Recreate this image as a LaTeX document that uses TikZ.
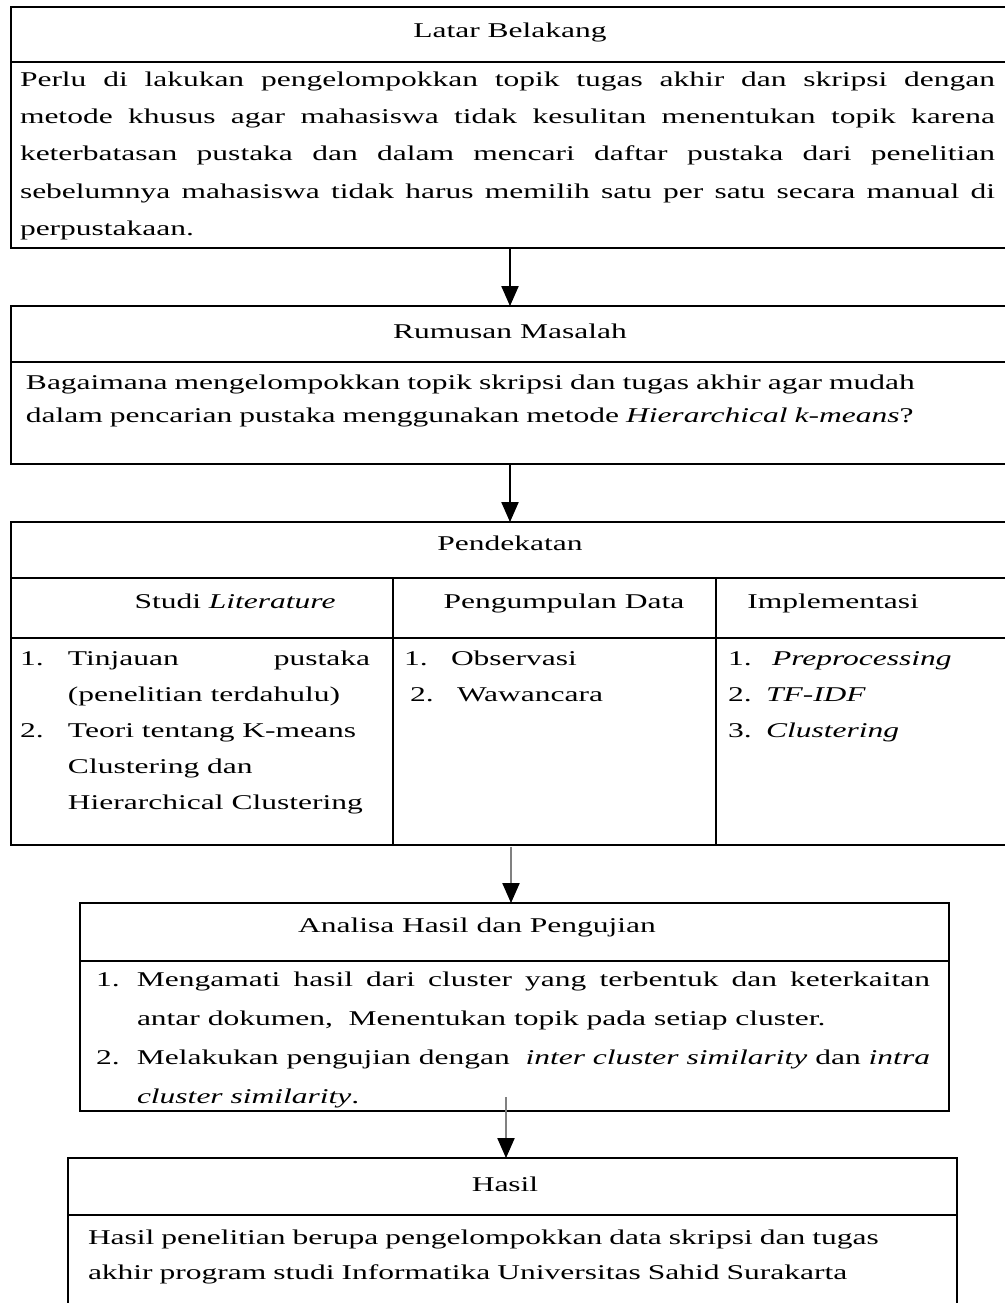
\documentclass[tikz,border=0pt]{standalone}
\usepackage{fontspec}
\setmainfont{Liberation Serif}[FakeStretch=1.5]
\usetikzlibrary{arrows.meta}
\newcommand{\itmx}[3]{\noindent\hangindent=#2\hangafter=1\makebox[#2][l]{#1}#3\par}
\begin{document}
\begin{tikzpicture}[x=0.75pt,y=-0.75pt,
  every node/.style={inner sep=0pt,outer sep=0pt},
  frame/.style={draw,line width=1.5pt,rectangle,anchor=north west},
  sep/.style={line width=1.5pt},
  ttl/.style={anchor=base,font=\fontsize{15.75pt}{24pt}\selectfont},
  body/.style={anchor=base west},
  sz/.style={font=\fontsize{15.75pt}{#1}\selectfont},
  arr/.style={line width=0.8pt,-{Triangle[length=15pt,width=13pt,color=black]}},
  garr/.style={line width=0.8pt,draw=gray,-{Triangle[length=15pt,width=13pt,color=black]}}]
\useasboundingbox (0,0) rectangle (1005,1303);
% boxes
\node[frame,minimum width=1004*0.75pt,minimum height=241*0.75pt] (b1) at (11,7) {};
\node[frame,minimum width=1004*0.75pt,minimum height=158*0.75pt] (b2) at (11,306) {};
\node[frame,minimum width=1004*0.75pt,minimum height=323*0.75pt] (b3) at (11,522) {};
\node[frame,minimum width=869*0.75pt,minimum height=208*0.75pt] (b4) at (80,903) {};
\node[frame,minimum width=889*0.75pt,minimum height=162*0.75pt] (b5) at (68,1158) {};
% separators
\draw[sep] (11,62) -- (1015,62);
\draw[sep] (11,362) -- (1015,362);
\draw[sep] (11,578) -- (1015,578);
\draw[sep] (11,638) -- (1015,638);
\draw[sep] (393,578) -- (393,845);
\draw[sep] (716,578) -- (716,845);
\draw[sep] (80,961) -- (949,961);
\draw[sep] (68,1215) -- (957,1215);
% titles
\node[ttl] (t1) at (510,37) {Latar Belakang};
\node[ttl] (t2) at (510,338) {Rumusan Masalah};
\node[ttl] (t3) at (510,550) {Pendekatan};
\node[ttl] (h1) at (235,608) {Studi \textit{Literature}};
\node[ttl] (h2) at (564,608) {Pengumpulan Data};
\node[ttl] (h3) at (833,608) {Implementasi};
\node[ttl] (t4) at (477,932) {Analisa Hasil dan Pengujian};
\node[ttl] (t5) at (505,1191) {Hasil};
% bodies
\node[body,sz=28pt,text width=975*0.75pt,align=justify] (p1) at (20,86) {Perlu di lakukan pengelompokkan topik tugas akhir dan skripsi dengan\linebreak metode khusus agar mahasiswa tidak kesulitan menentukan topik karena\linebreak keterbatasan pustaka dan dalam mencari daftar pustaka dari penelitian\linebreak sebelumnya mahasiswa tidak harus memilih satu per satu secara manual di\linebreak perpustakaan.};
\node[body,sz=24.75pt,text width=960*0.75pt,align=left] (p2) at (26,389) {Bagaimana mengelompokkan topik skripsi dan tugas akhir agar mudah\\dalam pencarian pustaka menggunakan metode \textit{Hierarchical k-means}?};
\node[body,sz=27pt,text width=350*0.75pt,align=justify] (c1) at (20,665) {\itmx{1.}{36pt}{Tinjauan pustaka\linebreak (penelitian terdahulu)}\itmx{2.}{36pt}{Teori tentang K-means\newline Clustering dan\newline Hierarchical Clustering}};
\node[body,sz=27pt,text width=290*0.75pt,align=left] (c2) at (404,665) {\makebox[35.25pt][l]{1.}Observasi\\\hspace*{4.5pt}\makebox[35.25pt][l]{2.}Wawancara};
\node[body,sz=27pt,text width=280*0.75pt,align=left] (c3) at (728,665) {\makebox[33pt][l]{1.}\textit{Preprocessing}\\\makebox[28.5pt][l]{2.}\textit{TF-IDF}\\\makebox[28.5pt][l]{3.}\textit{Clustering}};
\node[body,sz=29.25pt,text width=834*0.75pt,align=justify] (p4) at (96,986) {\itmx{1.}{30.75pt}{Mengamati hasil dari cluster yang terbentuk dan keterkaitan\linebreak antar dokumen,~ Menentukan topik pada setiap cluster.}\itmx{2.}{30.75pt}{Melakukan pengujian dengan~ \textit{inter cluster similarity} dan \textit{intra}\linebreak \textit{cluster similarity}.}};
\node[body,sz=26.25pt,text width=860*0.75pt,align=left] (p5) at (88,1244) {Hasil penelitian berupa pengelompokkan data skripsi dan tugas\\akhir program studi Informatika Universitas Sahid Surakarta};
% connectors
\coordinate (a1) at (510,248);
\coordinate (a2) at (510,464);
\coordinate (a3) at (511,847);
\coordinate (a4) at (506,1097);
\draw[arr] (a1) -- (b2.north -| a1);
\draw[arr] (a2) -- (b3.north -| a2);
\draw[garr] (a3) -- (b4.north -| a3);
\draw[garr] (a4) -- (b5.north -| a4);
\end{tikzpicture}
\end{document}
